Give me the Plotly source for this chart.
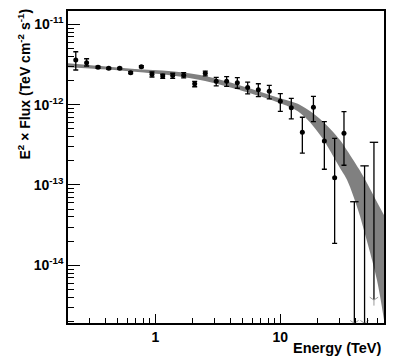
import plotly.graph_objects as go

# ---- data points (Energy in TeV, E^2 x Flux in TeV cm^-2 s^-1) ----
energy = [0.231, 0.282, 0.348, 0.424, 0.519, 0.635, 0.773, 0.940, 1.146, 1.377,
          1.686, 2.065, 2.51, 3.07, 3.72, 4.53, 5.48, 6.67, 8.16, 10.0,
          12.24, 15.0, 18.4, 22.5, 27.2, 32.3]
flux = [3.59e-12, 3.33e-12, 2.92e-12, 2.84e-12, 2.84e-12, 2.50e-12, 2.97e-12, 2.39e-12, 2.28e-12, 2.30e-12,
        2.32e-12, 1.82e-12, 2.46e-12, 1.95e-12, 1.95e-12, 1.87e-12, 1.63e-12, 1.53e-12, 1.47e-12, 1.10e-12,
        9.17e-13, 4.53e-13, 9.27e-13, 3.53e-13, 1.23e-13, 4.40e-13]
flux_hi = [4.56e-12, 3.73e-12, 3.02e-12, 2.92e-12, 2.92e-12, 2.58e-12, 3.05e-12, 2.55e-12, 2.39e-12, 2.46e-12,
           2.50e-12, 1.95e-12, 2.62e-12, 2.19e-12, 2.23e-12, 2.17e-12, 1.91e-12, 1.82e-12, 1.74e-12, 1.37e-12,
           1.20e-12, 6.97e-13, 1.27e-12, 6.14e-13, 3.81e-13, 8.17e-13]
flux_lo = [2.70e-12, 3.03e-12, 2.83e-12, 2.76e-12, 2.76e-12, 2.43e-12, 2.89e-12, 2.21e-12, 2.13e-12, 2.13e-12,
           2.15e-12, 1.67e-12, 2.28e-12, 1.71e-12, 1.69e-12, 1.60e-12, 1.36e-12, 1.26e-12, 1.18e-12, 8.26e-13,
           6.64e-13, 2.50e-13, 6.14e-13, 1.57e-13, 1.88e-14, 1.76e-13]

# ---- high-energy points whose error bars run off the bottom ----
ul_energy = [39.1, 47.2, 56.1]
ul_upper = [6.19e-14, 1.73e-13, 3.40e-13]
ul_lower = [1.9e-15, 1.9e-15, 3.7e-15]

# ---- fitted spectrum band ----
band_energy = [0.2, 0.582, 2.28, 10.0, 14.4, 20.8, 30.0, 34.2, 42.6, 45.9, 50.3, 59.3, 67.5]
band_upper = [3.27e-12, 2.835e-12, 2.34e-12, 1.20e-12, 9.90e-13, 6.63e-13, 3.63e-13,
              2.69e-13, 1.58e-13, 1.29e-13, 1.00e-13, 6.14e-14, 4.23e-14]
band_lower = [2.92e-12, 2.62e-12, 2.03e-12, 1.04e-12, 7.87e-13, 4.19e-13, 1.63e-13,
              1.15e-13, 4.48e-14, 3.00e-14, 1.79e-14, 6.57e-15, 2.09e-15]

# ---- tick labels ----
y_tick_vals = [1e-14, 1e-13, 1e-12, 1e-11]
y_tick_text = ["10<sup>-14</sup>", "10<sup>-13</sup>", "10<sup>-12</sup>", "10<sup>-11</sup>"]
x_tick_vals = [1, 10]
x_tick_text = ["1", "10"]

X_RANGE = [-0.6986, 1.8294]
Y_RANGE = [-14.718, -10.834]

fig = go.Figure()

fig.add_trace(go.Scatter(x=band_energy, y=band_lower, mode="lines",
                         line=dict(width=0, color="#808080", shape="spline"),
                         showlegend=False, hoverinfo="skip"))
fig.add_trace(go.Scatter(x=band_energy, y=band_upper, mode="lines",
                         line=dict(width=0, color="#808080", shape="spline"),
                         fill="tonexty", fillcolor="#808080",
                         showlegend=False, hoverinfo="skip"))

# data points with asymmetric error bars
fig.add_trace(go.Scatter(
    x=energy, y=flux, mode="markers",
    marker=dict(size=5, color="black"),
    error_y=dict(type="data", symmetric=False,
                 array=[h - f for h, f in zip(flux_hi, flux)],
                 arrayminus=[f - l for f, l in zip(flux, flux_lo)],
                 color="black", thickness=1.3, width=2.5),
    showlegend=False))

# off-scale error bars: vertical segments
seg_x, seg_y = [], []
for e, u, l in zip(ul_energy, ul_upper, ul_lower):
    seg_x += [e, e, None]
    seg_y += [u, l, None]
fig.add_trace(go.Scatter(x=seg_x, y=seg_y, mode="lines",
                         line=dict(color="black", width=1.3),
                         showlegend=False, hoverinfo="skip"))
fig.add_trace(go.Scatter(x=ul_energy, y=ul_upper, mode="markers",
                         marker=dict(symbol="line-ew-open", size=6, color="black",
                                     line=dict(color="black", width=1.3)),
                         showlegend=False, hoverinfo="skip"))
fig.add_trace(go.Scatter(x=ul_energy, y=ul_lower, mode="markers",
                         marker=dict(symbol="y-down-open", size=7, color="#999999",
                                     line=dict(color="#999999", width=1)),
                         showlegend=False, hoverinfo="skip"))

# invisible traces carrying the overlay axes used for minor ticks
fig.add_trace(go.Scatter(x=[band_energy[0]], y=[band_upper[0]], xaxis="x2", yaxis="y",
                         mode="markers", marker=dict(opacity=0), showlegend=False, hoverinfo="skip"))
fig.add_trace(go.Scatter(x=[band_energy[0]], y=[band_upper[0]], xaxis="x", yaxis="y2",
                         mode="markers", marker=dict(opacity=0), showlegend=False, hoverinfo="skip"))

tickfont = dict(family="Liberation Sans, Arial, sans-serif", size=14, color="black", weight="bold")

# minor tick positions at 2..9 of each decade
x_minor = [m * 10.0 ** k for k in (-1, 0, 1) for m in range(2, 10)]
y_minor = [m * 10.0 ** k for k in (-15, -14, -13, -12, -11) for m in range(2, 10)]

fig.update_layout(
    xaxis=dict(type="log", range=X_RANGE, tickmode="array",
               tickvals=x_tick_vals, ticktext=x_tick_text, automargin=False,
               showline=True, linecolor="black", linewidth=1.5, mirror=True,
               ticks="inside", ticklen=9, tickwidth=1, tickcolor="black",
               showgrid=False, zeroline=False, tickfont=tickfont),
    yaxis=dict(type="log", range=Y_RANGE, tickmode="array",
               tickvals=y_tick_vals, ticktext=y_tick_text, automargin=False,
               showline=True, linecolor="black", linewidth=1.5, mirror=True,
               ticks="inside", ticklen=12, tickwidth=1, tickcolor="black",
               showgrid=False, zeroline=False, tickfont=tickfont),
    xaxis2=dict(type="log", range=X_RANGE, overlaying="x", anchor="y", side="bottom",
                tickmode="array", tickvals=x_minor, ticktext=[""] * len(x_minor),
                ticks="inside", ticklen=5, tickwidth=1, tickcolor="black",
                showline=False, showgrid=False, zeroline=False, automargin=False),
    yaxis2=dict(type="log", range=Y_RANGE, overlaying="y", anchor="x", side="left",
                tickmode="array", tickvals=y_minor, ticktext=[""] * len(y_minor),
                ticks="inside", ticklen=6, tickwidth=1, tickcolor="black",
                showline=False, showgrid=False, zeroline=False, automargin=False),
)

fig.add_annotation(text="Energy (TeV)", xref="paper", yref="paper", x=1, y=0,
                   xanchor="right", yanchor="top", yshift=-15, showarrow=False,
                   font=dict(family="Liberation Sans, Arial, sans-serif", size=14.5,
                             color="black", weight="bold"))
fig.add_annotation(text="E<sup>2</sup> × Flux (TeV cm<sup>-2</sup> s<sup>-1</sup>)",
                   xref="paper", yref="paper", x=0, y=1, xanchor="center", yanchor="top",
                   xshift=-44, yshift=4, textangle=-90, showarrow=False,
                   font=dict(family="Liberation Sans, Arial, sans-serif", size=14,
                             color="black", weight="bold"))

fig.update_layout(width=400, height=364, margin=dict(l=68, r=16, t=11, b=41),
                  paper_bgcolor="white", plot_bgcolor="white")

fig.write_html("out.html", config={"displayModeBar": False},
               post_script="document.body.style.margin='0px';")
